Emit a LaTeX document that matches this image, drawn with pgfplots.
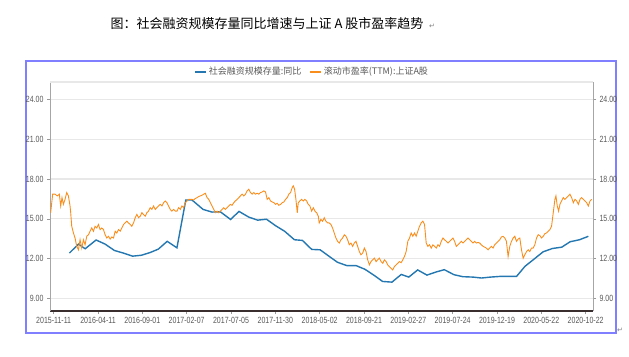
\documentclass[border=0pt]{standalone}
\usepackage{fontspec}
\setmainfont{Liberation Sans}
\newfontfamily\cjk{Noto Sans CJK SC}
\newfontfamily\tickfont[FakeStretch=0.78]{Liberation Sans}
\newfontfamily\sym{DejaVu Sans}
\usepackage{pgfplots}
\pgfplotsset{compat=1.18}
\definecolor{sfblue}{HTML}{2477B0}
\definecolor{peorange}{HTML}{F98E1D}
\definecolor{framec}{HTML}{7F7FFF}
\definecolor{gridc}{HTML}{E8E8E8}
\definecolor{labc}{HTML}{595959}
\definecolor{xaxc}{HTML}{3A2E2E}
\pgfplotsset{
  common/.style={
    at={(50pt,45pt)}, anchor=south west, scale only axis,
    width=543pt, height=229pt,
    xmin=-0.083, xmax=12.165, ymin=8.04, ymax=25.33,
    ytick={9,12,15,18,21,24},
    yticklabel style={/pgf/number format/.cd, fixed, fixed zerofill, precision=2},
    /pgf/number format/assume math mode=true,
    tick align=outside, major tick length=3pt,
    tick style={draw=gray!80, line width=0.6pt},
    ticklabel style={font=\tickfont\fontsize{9}{9}\selectfont, text=labc},
    y axis line style={draw=gray!70, line width=0.8pt},
  }
}
\begin{document}
\begin{tikzpicture}[x=1pt,y=1pt]
\useasboundingbox (0,0) rectangle (629,356);
\draw[framec, line width=1.6pt] (26,23) rectangle (616,295);
\node[font=\cjk\fontsize{13}{13}\selectfont, anchor=center, inner sep=0pt] at (267,332) {图：社会融资规模存量同比增速与上证 A 股市盈率趋势};
\node[font=\sym\fontsize{7}{7}\selectfont, text=gray, inner sep=0pt] at (432,330) {↵};
\node[font=\sym\fontsize{7}{7}\selectfont, text=gray, inner sep=0pt] at (620,26) {↵};
\begin{axis}[common,
  axis x line*=bottom, axis y line*=left,
  x axis line style={draw=xaxc, line width=1.3pt},
  xtick={0,...,12},
  xticklabels={2015-11-11,2016-04-11,2016-09-01,2017-02-07,2017-07-05,2017-11-30,2018-05-02,2018-09-21,2019-02-27,2019-07-24,2019-12-19,2020-05-22,2020-10-22},
  ymajorgrids, grid style={gridc, line width=1.2pt},
  legend style={at={(0.483,1.044)}, anchor=center, draw=none, fill=none,
    legend columns=2, font=\cjk\fontsize{9}{9}\selectfont, text=labc,
    /tikz/every even column/.append style={column sep=6pt}},
  legend image code/.code={\draw[#1, line width=1.4pt] (0pt,0pt) -- (11pt,0pt);},
]
\draw[gridc, line width=1.2pt] (rel axis cs:0,1) -- (rel axis cs:1,1);
\addplot[sfblue, line width=1.4pt] coordinates {
(0.354,12.41)(0.558,13.09)(0.71,12.74)(0.957,13.40)(1.16,13.09)(1.37,12.61)(1.575,12.41)(1.78,12.18)(1.98,12.25)(2.18,12.46)(2.36,12.71)(2.56,13.30)(2.78,12.81)(2.98,16.42)(3.12,16.42)(3.37,15.71)(3.57,15.51)(3.76,15.53)(3.99,14.95)(4.18,15.56)(4.40,15.13)(4.60,14.90)(4.80,14.97)(5.00,14.49)(5.21,14.06)(5.43,13.42)(5.61,13.37)(5.82,12.69)(6.01,12.66)(6.20,12.20)(6.40,11.72)(6.61,11.47)(6.82,11.47)(7.02,11.19)(7.22,10.75)(7.42,10.27)(7.63,10.22)(7.84,10.80)(8.01,10.60)(8.21,11.14)(8.42,10.75)(8.62,10.98)(8.81,11.16)(9.03,10.78)(9.23,10.63)(9.46,10.60)(9.65,10.53)(9.85,10.60)(10.06,10.65)(10.27,10.65)(10.44,10.65)(10.63,11.41)(10.84,11.97)(11.04,12.51)(11.25,12.76)(11.46,12.86)(11.65,13.27)(11.86,13.42)(12.06,13.68)
};
\addlegendentry{社会融资规模存量:同比}
\addplot[peorange, line width=0.9pt] coordinates {
(-0.068,15.46)(-0.023,16.86)(0.030,16.86)(0.083,16.73)(0.128,16.86)(0.158,15.97)(0.188,16.60)(0.219,16.09)(0.256,16.47)(0.294,16.98)(0.332,16.73)(0.369,15.97)(0.384,15.46)(0.407,14.44)(0.445,13.93)(0.482,13.55)(0.520,12.92)(0.558,12.66)(0.595,13.42)(0.633,12.79)(0.671,13.42)(0.708,13.04)(0.746,13.68)(0.784,13.80)(0.821,14.06)(0.859,14.31)(0.897,14.06)(0.934,14.44)(0.972,14.31)(1.010,14.57)(1.047,14.19)(1.085,14.31)(1.123,14.19)(1.160,13.80)(1.198,13.55)(1.236,13.68)(1.274,13.47)(1.311,13.63)(1.349,13.55)(1.387,14.06)(1.424,13.93)(1.462,14.19)(1.500,14.06)(1.537,14.31)(1.575,14.57)(1.613,14.69)(1.650,14.82)(1.688,14.69)(1.726,14.57)(1.763,14.44)(1.801,14.69)(1.839,15.08)(1.876,15.33)(1.914,15.08)(1.952,15.20)(1.989,15.46)(2.027,15.33)(2.065,15.20)(2.102,15.46)(2.140,15.58)(2.178,15.84)(2.215,15.71)(2.253,15.97)(2.291,15.71)(2.328,15.84)(2.366,15.97)(2.404,16.09)(2.442,15.97)(2.479,16.22)(2.517,16.35)(2.555,16.22)(2.592,15.97)(2.630,15.71)(2.668,15.58)(2.705,15.71)(2.743,15.58)(2.781,15.58)(2.818,15.84)(2.856,15.71)(2.894,15.97)(2.931,15.84)(2.969,16.22)(3.007,16.35)(3.044,16.47)(3.082,16.47)(3.120,16.47)(3.157,16.42)(3.195,16.53)(3.233,16.60)(3.270,16.68)(3.308,16.73)(3.346,16.78)(3.384,16.86)(3.421,16.93)(3.459,16.60)(3.497,16.47)(3.534,16.22)(3.572,15.97)(3.610,15.71)(3.647,15.46)(3.685,15.58)(3.723,15.46)(3.760,15.58)(3.798,15.71)(3.836,15.84)(3.873,15.71)(3.911,15.84)(3.949,15.97)(3.986,16.09)(4.024,16.02)(4.062,16.22)(4.099,16.35)(4.137,16.47)(4.175,16.60)(4.213,16.73)(4.250,16.86)(4.288,16.73)(4.326,16.86)(4.363,17.11)(4.401,17.24)(4.439,16.98)(4.476,16.86)(4.514,16.98)(4.552,16.86)(4.589,16.93)(4.627,16.86)(4.665,16.98)(4.703,17.03)(4.740,17.11)(4.778,17.03)(4.816,16.47)(4.853,16.60)(4.891,16.35)(4.929,16.27)(4.966,16.22)(5.004,16.09)(5.042,16.17)(5.079,16.02)(5.117,16.09)(5.155,16.22)(5.192,16.27)(5.230,16.47)(5.268,16.60)(5.305,16.86)(5.343,16.98)(5.381,17.36)(5.404,17.49)(5.434,17.24)(5.464,16.47)(5.494,15.46)(5.517,16.22)(5.554,16.35)(5.592,16.47)(5.630,16.35)(5.667,16.47)(5.705,16.35)(5.743,16.09)(5.780,15.97)(5.818,15.58)(5.856,15.84)(5.893,15.58)(5.931,15.46)(5.969,15.20)
(5.989,14.69)(6.027,14.95)(6.065,14.82)(6.103,15.08)(6.140,14.82)(6.178,14.69)(6.216,14.69)(6.253,14.57)(6.291,14.31)(6.329,13.93)(6.366,13.55)(6.404,13.30)(6.442,13.17)(6.480,13.42)(6.517,13.55)(6.555,13.80)(6.593,13.68)(6.630,13.42)(6.668,13.04)(6.706,13.17)(6.743,12.92)(6.781,13.17)(6.819,13.30)(6.857,12.92)(6.894,12.53)(6.932,12.28)(6.970,12.41)(7.007,12.79)(7.045,12.53)(7.083,11.90)(7.121,11.52)(7.158,11.77)(7.196,11.90)(7.234,12.03)(7.271,11.77)(7.309,11.90)(7.347,12.03)(7.385,11.77)(7.422,11.64)(7.460,11.90)(7.498,11.77)(7.535,11.52)(7.573,11.39)(7.611,11.26)(7.648,11.14)(7.686,11.39)(7.724,11.52)(7.762,11.64)(7.799,11.77)(7.837,11.69)(7.875,11.90)(7.912,12.15)(7.950,12.53)(7.988,13.30)(8.026,13.55)(8.063,13.93)(8.101,13.68)(8.139,13.93)(8.176,13.68)(8.214,14.06)(8.252,14.44)(8.289,14.69)(8.327,14.82)(8.365,14.57)(8.403,13.17)(8.440,12.92)(8.478,13.04)(8.516,12.79)(8.553,13.04)(8.591,12.92)(8.629,12.79)(8.667,13.04)(8.704,12.92)(8.742,13.30)(8.780,13.55)(8.817,13.42)(8.855,13.30)(8.893,13.17)(8.930,13.30)(8.968,13.42)(9.006,13.55)(9.044,13.30)(9.081,12.92)(9.119,13.04)(9.157,13.17)(9.194,13.30)(9.232,13.17)(9.270,13.30)(9.308,13.42)(9.345,13.55)(9.383,13.42)(9.421,13.30)(9.458,13.17)(9.496,13.30)(9.534,13.17)(9.571,13.22)(9.609,13.17)(9.647,13.04)(9.685,12.92)(9.722,12.86)(9.760,12.79)(9.798,12.66)(9.835,12.79)(9.873,12.92)(9.911,12.79)(9.948,13.04)(9.986,13.17)(10.024,13.30)(10.062,13.42)(10.099,13.63)(10.137,13.68)(10.175,13.55)(10.212,13.30)(10.250,12.15)(10.288,12.92)(10.326,13.30)(10.363,13.55)(10.401,13.68)(10.439,13.30)(10.476,13.47)(10.514,13.55)(10.552,12.66)(10.590,12.03)(10.627,12.28)(10.665,12.53)(10.703,12.66)(10.740,12.53)(10.778,12.79)(10.816,12.79)(10.853,13.04)(10.891,13.55)(10.929,13.80)(10.967,13.73)(11.004,13.55)(11.042,13.68)(11.080,13.88)(11.117,13.93)(11.155,14.06)(11.193,14.19)(11.230,14.44)(11.268,15.46)(11.306,16.47)(11.329,16.73)(11.359,15.97)(11.389,15.58)(11.419,16.09)(11.457,16.35)(11.494,16.60)(11.532,16.47)(11.570,16.60)(11.608,16.73)(11.645,16.86)(11.683,16.60)(11.721,16.22)(11.758,16.47)(11.796,16.35)(11.834,16.09)(11.872,16.47)(11.909,16.60)(11.947,16.47)(11.985,16.35)(12.022,16.22)(12.060,15.97)(12.098,16.35)(12.136,16.47)
};
\addlegendentry{滚动市盈率(TTM):上证A股}
\end{axis}
\begin{axis}[common,
  axis x line=none, axis y line*=right,
  yticklabel pos=right,
]
\end{axis}
\end{tikzpicture}
\end{document}
